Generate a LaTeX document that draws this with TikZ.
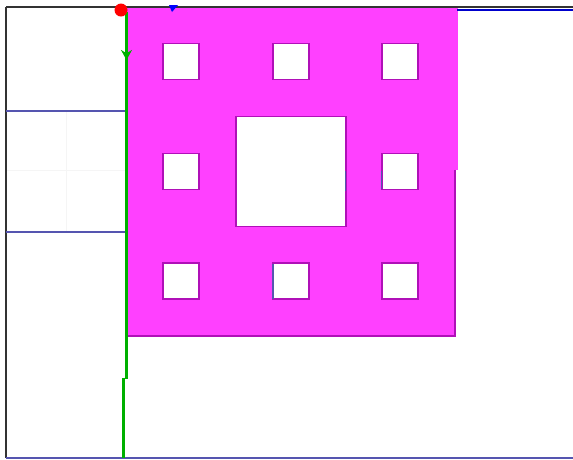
\documentclass[tikz,border=0pt]{standalone}
\usetikzlibrary{arrows.meta}
\definecolor{carpet}{HTML}{FF40FF}
\definecolor{carpetedge}{HTML}{B010B8}
\definecolor{axisgreen}{HTML}{00B000}
\definecolor{gridblue}{HTML}{5555B0}
\tikzset{
  hole/.style={fill=white,draw=carpetedge,line width=1.6pt},
  frameline/.style={draw=black!80,line width=1.8pt},
  blueline/.style={draw=gridblue,line width=2pt},
  greenline/.style={draw=axisgreen,line width=3.6pt}
}
\begin{document}
\begin{tikzpicture}[x=1pt,y=-1pt]
\useasboundingbox (0,0) rectangle (573,459);
% faint grid
\draw[black!4,line width=0.5pt] (66,110) -- (66,232) (6,170) -- (126,170);
% carpet
\fill[carpet,draw=carpetedge,line width=1.2pt] (126,7) rectangle (455,336);
\fill[carpet] (450,7) rectangle (457.5,170);
\draw[hole] (236,116.5) rectangle (346,226.5);
\foreach \cx/\cy in {163/43.5,273/43.5,382/43.5,163/153.5,382/153.5,163/263,273/263,382/263}{
  \draw[hole] (\cx,\cy) rectangle ++(36,36);
}
% small blue marks
\draw[gridblue,line width=1.6pt] (345.5,171) -- (345.5,191);
\draw[gridblue,line width=1.6pt] (381.5,171) -- (381.5,189);
\draw[gridblue,line width=1.6pt] (273,264) -- (273,299);
% frame
\draw[frameline] (6,7) -- (6,458);
\draw[frameline] (6,7) -- (573,7);
\draw[draw=blue!80!black,line width=2pt] (457,9.5) -- (573,9.5);
\draw[blueline] (6,457.5) -- (573,457.5);
\draw[blueline] (6,110.5) -- (126,110.5);
\draw[blueline] (6,232) -- (126,232);
% green axis
\coordinate (gtop) at (126.5,12);
\coordinate (gmid) at (126.5,378.5);
\coordinate (gjog) at (123.5,377.5);
\coordinate (gbot) at (123.5,458);
\draw[greenline] (gtop) -- (gmid);
\draw[greenline] (gjog) -- (gbot);
\draw[axisgreen,-{Stealth[length=10pt,width=11pt]},line width=3pt] (126.5,40) -- (126.5,60);
% red point and blue tip
\fill[red] (121,10) circle (6.5);
\fill[blue] (169,5) -- (178,5) -- (172,12) -- cycle;
\end{tikzpicture}
\end{document}
